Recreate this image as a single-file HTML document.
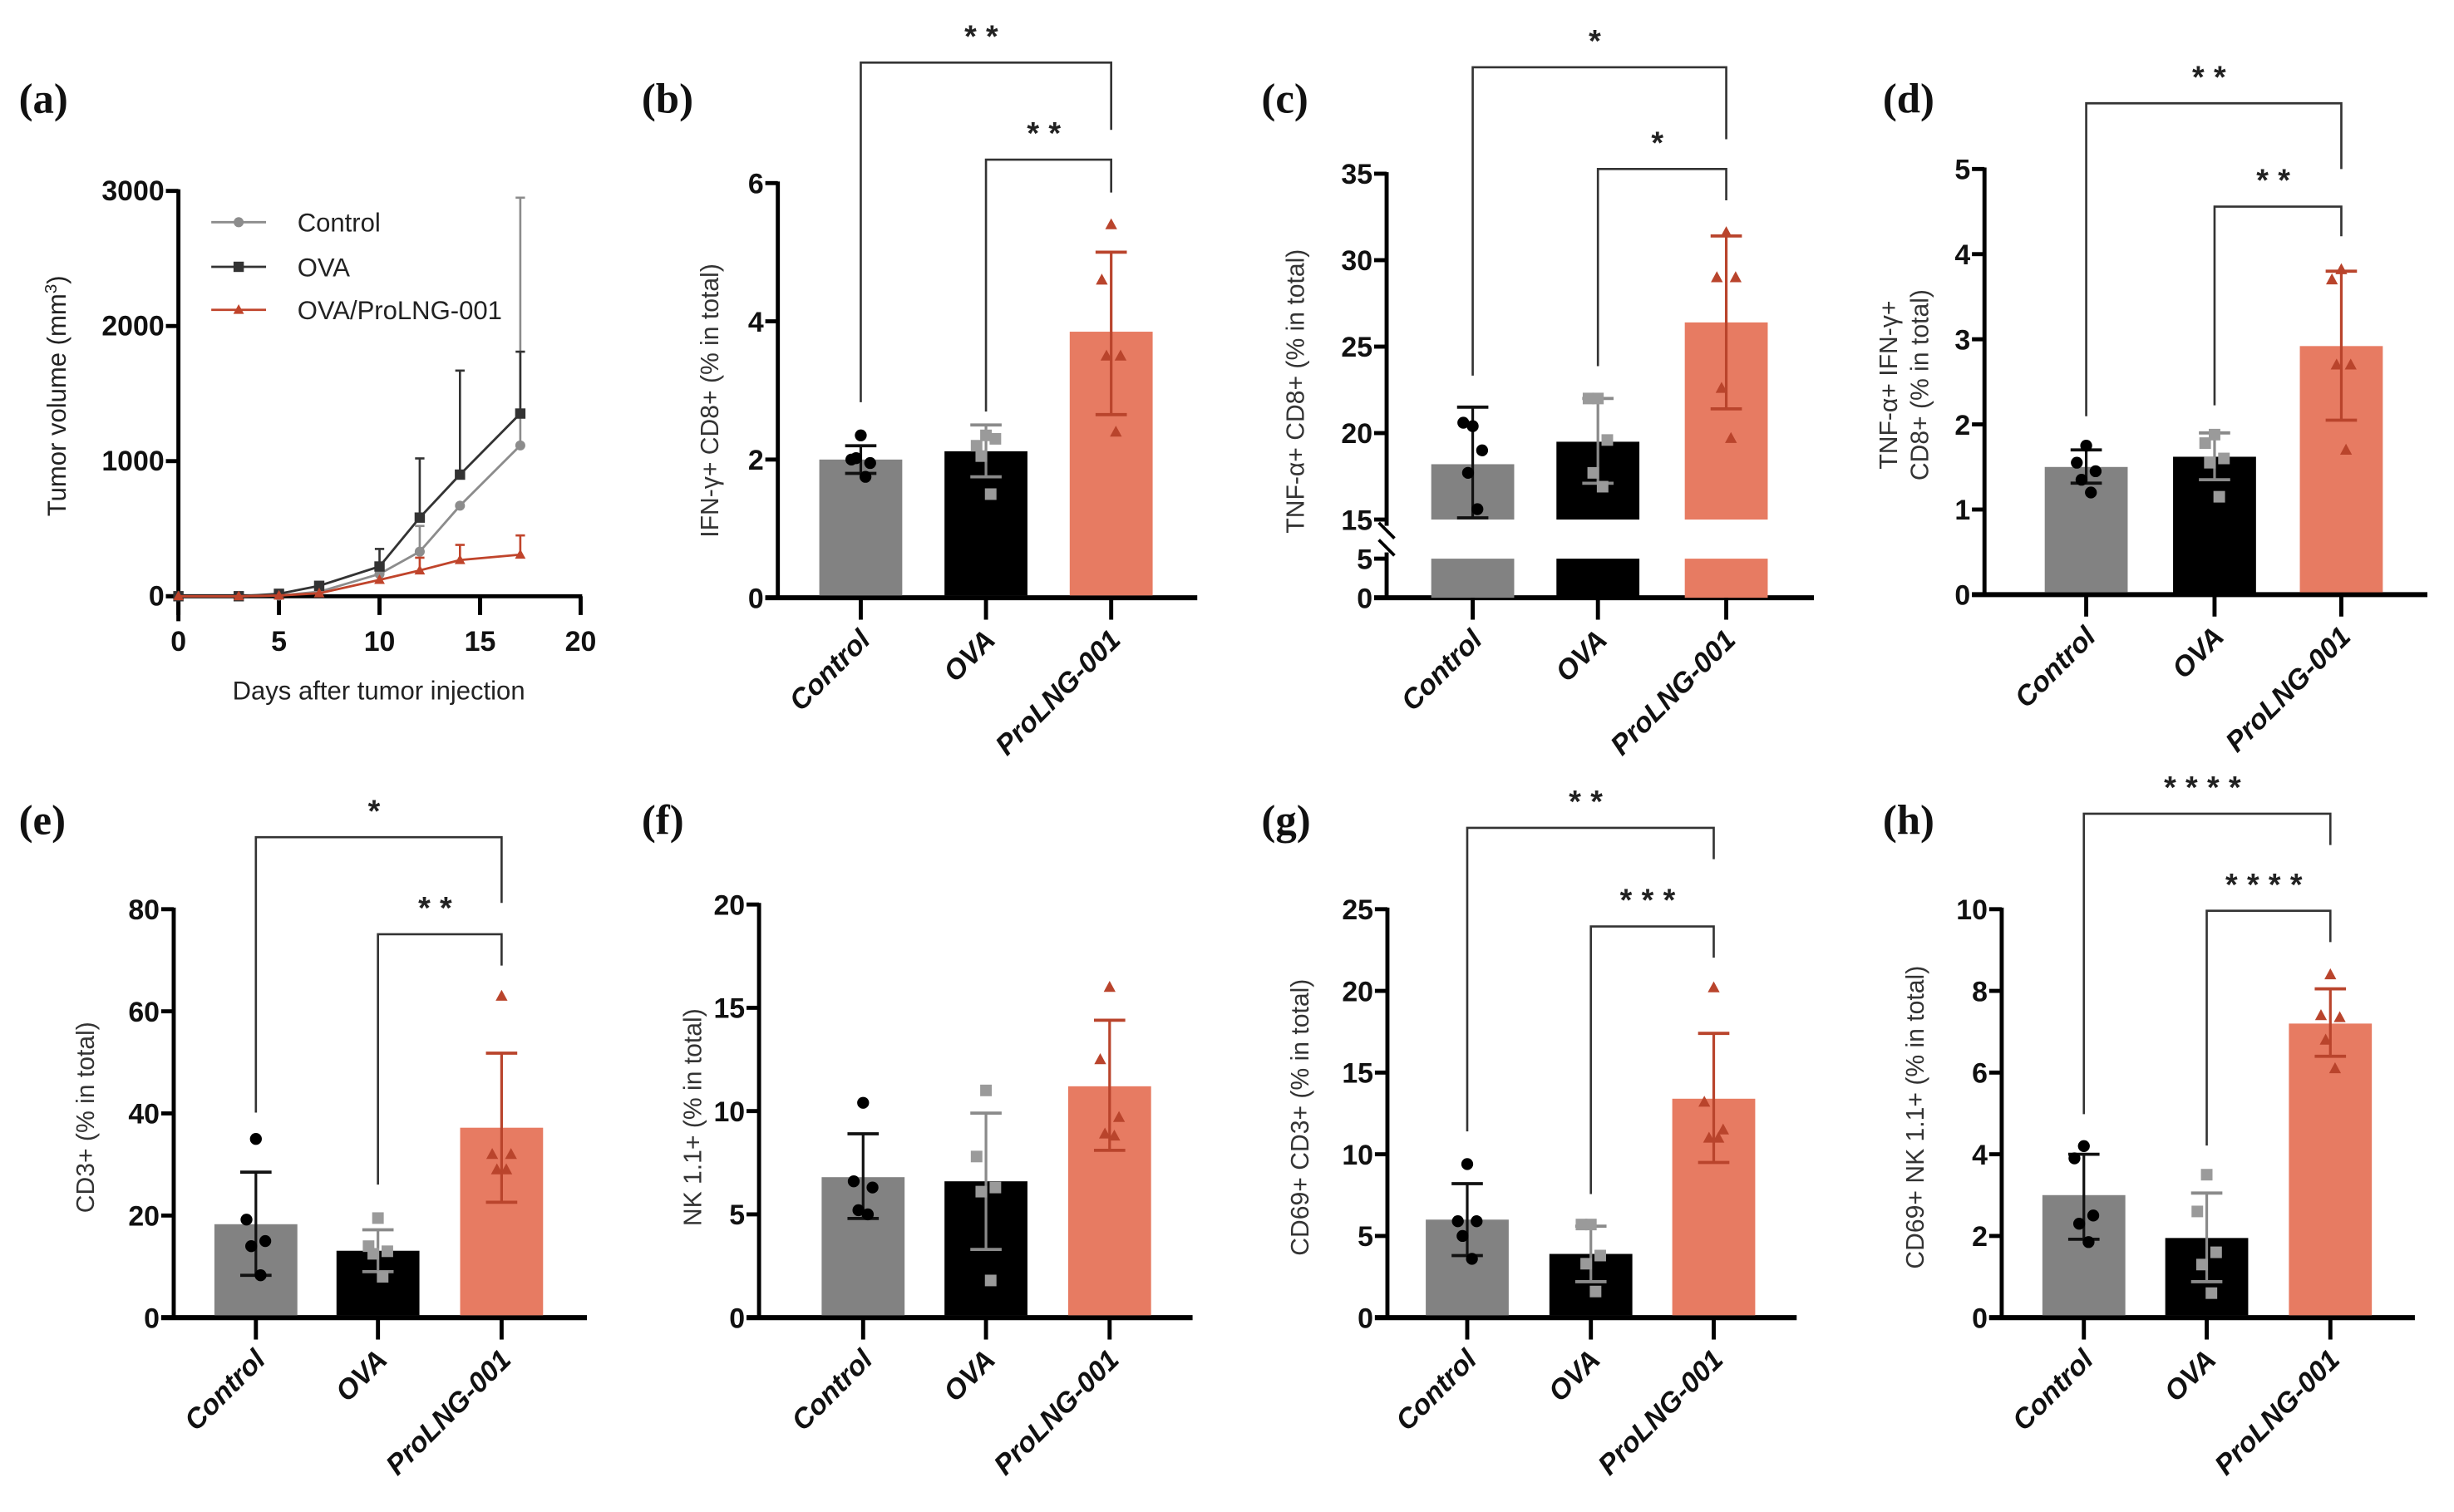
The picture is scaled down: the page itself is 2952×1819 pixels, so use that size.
<!DOCTYPE html>
<html><head><meta charset="utf-8"><style>
html,body{margin:0;padding:0;background:#fff}
svg{display:block}
text{font-family:"Liberation Sans",sans-serif}
.tk{font-weight:bold;font-size:18px;fill:#111}
.cat{font-weight:bold;font-style:italic;font-size:18px;fill:#111}
.yt{font-size:16px;fill:#333}
.pl{font-family:"Liberation Serif",serif;font-weight:bold;font-size:27px;fill:#111}
.st{font-size:20px;font-weight:bold;fill:#222}
</style></head><body>
<svg id="fig" width="2952" height="1819" viewBox="0 0 1568 966.2" preserveAspectRatio="none" xmlns="http://www.w3.org/2000/svg"></svg>
<script>
// ---- panel (a) data ----
const daysA = [0,3,5,7,10,12,14,17];
const ctrlA = [0,0,5,33,165,330,670,1116];
const ovaA = [0,0,18,77,220,582,900,1352];
const proA = [0,0,5,22,121,191,268,308];
const ctrlErrA = [0,0,0,0,0,520,0,2950];
const ovaErrA = [0,0,0,0,350,1020,1670,1810];
const proErrA = [0,0,0,0,0,285,380,450];
const xTicksA = [0,5,10,15,20];
const yTicksA = [0,1000,2000,3000];
const legendA = ["Control","OVA","OVA/ProLNG-001"];

// ---- bar panels data ----
const cats = ["Control","OVA","ProLNG-001"];
const meanB=[2.0,2.12,3.85], loB=[1.8,1.75,2.65], hiB=[2.2,2.5,5.0];
const ptsB=[[2.35,2.0,1.95,2.02,1.75],[2.35,2.2,2.3,2.05,1.5],[5.4,4.6,3.5,3.5,2.4]];
const ticksB=[0,2,4,6];
const meanC=[18.2,19.5,26.4], loC=[15.1,17.1,21.4], hiC=[21.5,22.0,31.4];
const ptsC=[[20.4,20.6,19.0,17.7,15.6],[22.0,22.0,19.6,17.7,16.9],[31.6,29.0,29.0,22.6,19.7]];
const ticksC=[0,5,15,20,25,30,35];
const meanD=[1.5,1.62,2.92], loD=[1.31,1.35,2.05], hiD=[1.70,1.90,3.80];
const ptsD=[[1.75,1.55,1.45,1.35,1.2],[1.88,1.78,1.6,1.55,1.15],[3.82,3.7,2.7,2.7,1.7]];
const ticksD=[0,1,2,3,4,5];
const meanE=[18.3,13.1,37.2], loE=[8.3,9.0,22.6], hiE=[28.5,17.2,51.8];
const ptsE=[[35,19.2,15,14,8.3],[19.5,14,13,12.5,8],[63,32,32,29,29]];
const ticksE=[0,20,40,60,80];
const meanF=[6.8,6.6,11.2], loF=[4.8,3.3,8.1], hiF=[8.9,9.9,14.4];
const ptsF=[[10.4,6.6,6.3,5.2,5.0],[11.0,7.8,6.3,6.1,1.8],[16.0,12.5,9.7,8.9,8.8]];
const ticksF=[0,5,10,15,20];
const meanG=[6.0,3.9,13.4], loG=[3.8,2.2,9.5], hiG=[8.2,5.6,17.4];
const ptsG=[[9.4,5.9,5.9,5.0,3.6],[5.7,5.7,3.8,3.3,1.6],[20.2,13.2,11.5,11.0,11.0]];
const ticksG=[0,5,10,15,20,25];
const meanH=[3.0,1.95,7.2], loH=[1.92,0.88,6.4], hiH=[4.0,3.05,8.05];
const ptsH=[[4.2,3.9,2.5,2.3,1.85],[3.5,2.6,1.6,1.3,0.6],[8.4,7.4,7.35,6.8,6.1]];
const ticksH=[0,2,4,6,8,10];

const NS="http://www.w3.org/2000/svg";
const svg=document.getElementById('fig');
function el(tag,attrs,parent,txt){const e=document.createElementNS(NS,tag);for(const k in attrs)e.setAttribute(k,attrs[k]);if(txt!==undefined)e.textContent=txt;(parent||svg).appendChild(e);return e;}
function line(x1,y1,x2,y2,stroke,w,p){return el('line',{x1,y1,x2,y2,stroke,'stroke-width':w},p);}

const barFill=['#828282','#000000','#e77b62'];
const errCol=['#111','#8a8a8a','#b9442c'];
const ptCol=['#000','#9a9a9a','#b9442c'];

// ---- panel (a) ----
(function(){
  const g=el('g',{});
  
  
  const x0=114,x1=371,y0=381,y1=122;
  const X=d=>x0+(d-0)/20*(x1-x0), Y=v=>y0-(v/3000)*(y0-y1);
  const lab=el('text',{x:12,y:72,class:'pl'},g,'(a)');
  
  line(x0,y1-1,x0,y0+16,'#000',2.6,g);
  line(x0-8,y0,x1+1,y0,'#000',2.6,g);
  yTicksA.forEach(v=>{line(x0-8,Y(v),x0,Y(v),'#000',2.6,g);
    const t=el('text',{x:x0-9,y:Y(v)+6,class:'tk','text-anchor':'end'},g,String(v));
    });
  xTicksA.forEach(v=>{line(X(v),y0,X(v),y0+12,'#000',2.6,g);
    const t=el('text',{x:X(v),y:y0+35,class:'tk','text-anchor':'middle'},g,String(v));
    });
  const xt=el('text',{x:242,y:447,'font-size':16.5,fill:'#222','text-anchor':'middle'},g,'Days after tumor injection');
  
  const yt=el('text',{transform:'translate(42,253) rotate(-90)','font-size':16.5,fill:'#222','text-anchor':'middle'},g);
  
  yt.innerHTML='Tumor volume (mm<tspan dy="-6" font-size="11">3</tspan><tspan dy="6">)</tspan>';
  const series=[{v:ctrlA,e:ctrlErrA,c:'#8c8c8c',m:'circle',n:'control'},{v:ovaA,e:ovaErrA,c:'#333',m:'square',n:'ova'},{v:proA,e:proErrA,c:'#c0442b',m:'tri',n:'ova-prolng-001'}];
  function marker(m,x,y,c,p){
    if(m==='circle')return el('circle',{cx:x,cy:y,r:3.2,fill:c},p);
    if(m==='square')return el('rect',{x:x-3.3,y:y-3.3,width:6.6,height:6.6,fill:c},p);
    return el('path',{d:`M${x},${y-3.6}L${x+3.4},${y+2.6}L${x-3.4},${y+2.6}Z`,fill:c},p);
  }
  series.forEach(s=>{
    const sg=el('g',{},g);
    
    daysA.forEach((d,i)=>{ if(s.e[i]>s.v[i]){line(X(d),Y(s.v[i]),X(d),Y(s.e[i]),s.c,1.4,sg);line(X(d)-3,Y(s.e[i]),X(d)+3,Y(s.e[i]),s.c,1.4,sg);} });
    el('polyline',{points:daysA.map((d,i)=>X(d)+','+Y(s.v[i])).join(' '),fill:'none',stroke:s.c,'stroke-width':1.5},sg);
    daysA.forEach((d,i)=>{const mk=marker(s.m,X(d),Y(s.v[i]),s.c,sg);});
  });
  series.forEach((s,i)=>{
    const ly=[142,170.5,198][i];
    const lg=el('g',{},g);
    line(135,ly,170,ly,s.c,1.5,lg);marker(s.m,152.5,ly,s.c,lg);
    el('text',{x:190,y:ly+6,'font-size':16.5,fill:'#222'},lg,legendA[i]);
  });
})();

// ---- bar panel drawer ----
function barPanel(o){
  const g=el('g',{});
  
  
  const lab=el('text',{x:o.lx,y:o.ly,class:'pl'},g,'('+o.id+')');
  
  const Y=o.Y;
  const ax=o.ax, y0=Y(0), top=o.top;
  line(ax,Y(top)-1,ax,y0,'#000',2.6,g);
  line(ax-8,y0,o.xEnd,y0,'#000',3.2,g);
  o.ticks.forEach(v=>{line(ax-8,Y(v),ax,Y(v),'#000',2.6,g);
    const t=el('text',{x:ax-9,y:Y(v)+6.5,class:'tk','text-anchor':'end'},g,String(v));
    });
  const bw=53;
  o.mean.forEach((m,i)=>{
    const cx=o.cx[i];
    if(o.broken){
      const r1=el('rect',{x:cx-bw/2,y:Y(m),width:bw,height:Y(15)-Y(m),fill:barFill[i]},g);
      
      el('rect',{x:cx-bw/2,y:Y(5),width:bw,height:y0-Y(5),fill:barFill[i]},g);
    } else {
      const r=el('rect',{x:cx-bw/2,y:Y(m),width:bw,height:y0-Y(m)-1.5,fill:barFill[i]},g);
      
    }
    const eg=el('g',{},g);
    line(cx,Y(o.lo[i]),cx,Y(o.hi[i]),errCol[i],1.7,eg);
    line(cx-10,Y(o.lo[i]),cx+10,Y(o.lo[i]),errCol[i],2,eg);
    line(cx-10,Y(o.hi[i]),cx+10,Y(o.hi[i]),errCol[i],2,eg);
    o.pts[i].forEach((v,j)=>{
      const dx=[0,-6,6,-3,3][j];
      const x=cx+dx,y=Y(v);let p;
      if(i===0)p=el('circle',{cx:x,cy:y,r:3.8,fill:ptCol[0]},g);
      else if(i===1)p=el('rect',{x:x-3.7,y:y-3.7,width:7.4,height:7.4,fill:ptCol[1]},g);
      else p=el('path',{d:`M${x},${y-4}L${x+3.8},${y+3}L${x-3.8},${y+3}Z`,fill:ptCol[2]},g);
      
    });
    line(cx,y0,cx,y0+14,'#000',2.6,g);
    const t=el('text',{x:cx+7,y:y0+28,class:'cat','text-anchor':'end',transform:`rotate(-45 ${cx+7} ${y0+28})`},g,cats[i]);
    
  });
  if(o.broken){
    el('rect',{x:ax-3,y:Y(15)+4,width:6,height:Y(5)-Y(15)-8,fill:'#fff'},g);
    line(ax-5,Y(15)+2,ax+5,Y(15)+12,'#000',2,g);
    line(ax-5,Y(5)-12,ax+5,Y(5)-2,'#000',2,g);
  }
  const yt=el('text',{transform:`translate(${o.tx},${o.ty}) rotate(-90)`,class:'yt','text-anchor':'middle'},g);
  
  if(Array.isArray(o.title)){
    el('tspan',{x:0,dy:-10},yt,o.title[0]);el('tspan',{x:0,dy:20},yt,o.title[1]);
  } else yt.textContent=o.title;
  (o.brackets||[]).forEach(b=>{
    const bg=el('g',{},g);
    el('polyline',{points:`${b.x1},${b.l1} ${b.x1},${b.y} ${b.x2},${b.y} ${b.x2},${b.l2}`,fill:'none',stroke:'#333','stroke-width':1.4},bg);
    el('text',{x:(b.x1+b.x2)/2,y:b.y-10,class:'st','text-anchor':'middle','letter-spacing':'6'},bg,b.s);
  });
}
function lin(v0,p0,v1,p1){return v=>p0+(v-v0)/(v1-v0)*(p1-p0);}

barPanel({id:'b',lx:410,ly:72,ax:497,xEnd:765,cx:[550,630,710],top:6,Y:lin(0,382,6,117),ticks:ticksB,mean:meanB,lo:loB,hi:hiB,pts:ptsB,
  tx:459,ty:256,title:'IFN-γ+ CD8+ (% in total)',
  brackets:[{x1:550,x2:710,y:40,l1:257,l2:83,s:'**'},{x1:630,x2:710,y:102,l1:263,l2:123,s:'**'}]});
(function(){
  const Yc=v=> v<=5 ? 382-v*5 : 332-(v-15)*(332-111)/20;
  barPanel({id:'c',lx:806,ly:72,ax:886,xEnd:1159,cx:[941,1021,1103],top:35,Y:Yc,broken:true,ticks:ticksC,mean:meanC,lo:loC,hi:hiC,pts:ptsC,
    tx:833,ty:250,title:'TNF-α+ CD8+ (% in total)',
    brackets:[{x1:941,x2:1103,y:43,l1:240,l2:89,s:'*'},{x1:1021,x2:1103,y:108,l1:234,l2:128,s:'*'}]});
})();
barPanel({id:'d',lx:1203,ly:72,ax:1268,xEnd:1551,cx:[1333,1415,1496],top:5,Y:lin(0,380,5,108),ticks:ticksD,mean:meanD,lo:loD,hi:hiD,pts:ptsD,
  tx:1222,ty:246,title:['TNF-α+ IFN-γ+','CD8+ (% in total)'],
  brackets:[{x1:1333,x2:1496,y:66,l1:266,l2:108,s:'**'},{x1:1415,x2:1496,y:132,l1:259,l2:151,s:'**'}]});
barPanel({id:'e',lx:12,ly:533,ax:111,xEnd:375,cx:[163.5,241.5,320.5],top:80,Y:lin(0,842,80,581),ticks:ticksE,mean:meanE,lo:loE,hi:hiE,pts:ptsE,
  tx:60,ty:714,title:'CD3+ (% in total)',
  brackets:[{x1:163.5,x2:320.5,y:535,l1:711,l2:577,s:'*'},{x1:241.5,x2:320.5,y:597,l1:757,l2:617,s:'**'}]});
barPanel({id:'f',lx:410,ly:533,ax:485,xEnd:762,cx:[551.5,630,709],top:20,Y:lin(0,842,20,578),ticks:ticksF,mean:meanF,lo:loF,hi:hiF,pts:ptsF,
  tx:448,ty:714,title:'NK 1.1+ (% in total)',brackets:[]});
barPanel({id:'g',lx:806,ly:533,ax:886.5,xEnd:1148,cx:[937.5,1016.5,1095],top:25,Y:lin(0,842,25,581),ticks:ticksG,mean:meanG,lo:loG,hi:hiG,pts:ptsG,
  tx:836,ty:714,title:'CD69+ CD3+ (% in total)',
  brackets:[{x1:937.5,x2:1095,y:529,l1:723,l2:549,s:'**'},{x1:1016.5,x2:1095,y:592,l1:763,l2:612,s:'***'}]});
barPanel({id:'h',lx:1203,ly:533,ax:1279,xEnd:1543,cx:[1331.5,1410,1489],top:10,Y:lin(0,842,10,581),ticks:ticksH,mean:meanH,lo:loH,hi:hiH,pts:ptsH,
  tx:1229,ty:714,title:'CD69+ NK 1.1+ (% in total)',
  brackets:[{x1:1331.5,x2:1489,y:520,l1:712,l2:540,s:'****'},{x1:1410,x2:1489,y:582,l1:732,l2:602,s:'****'}]});
</script>
</body></html>
